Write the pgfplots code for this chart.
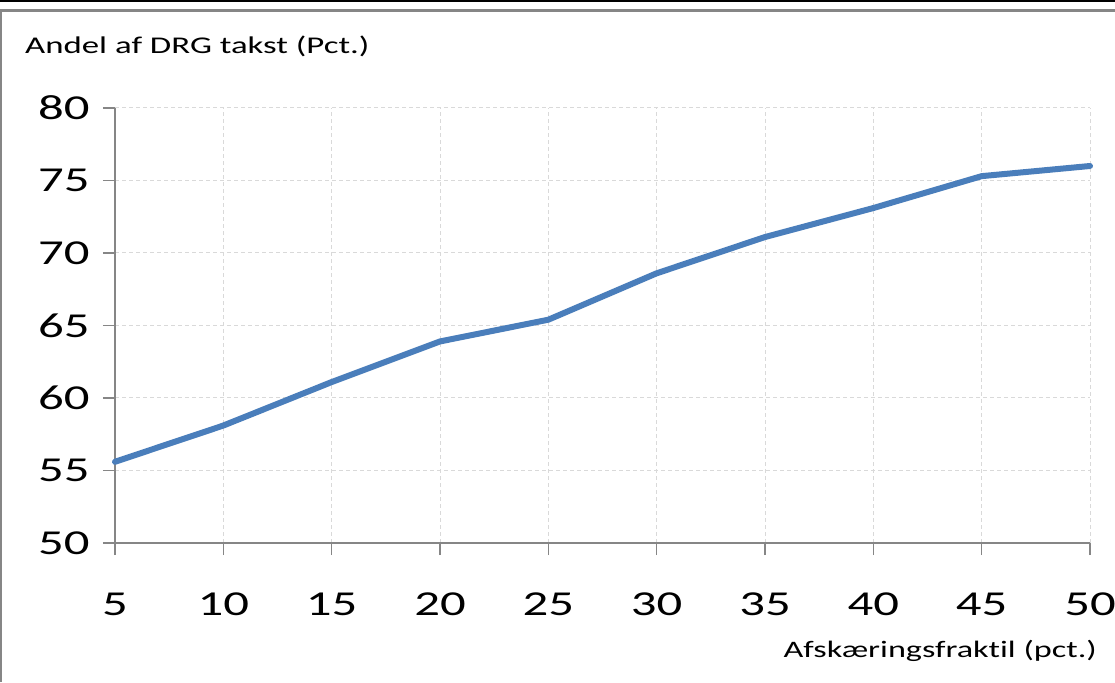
\documentclass[border=0pt]{standalone}
\usepackage{pgfplots}
\pgfplotsset{compat=1.18}
\usepackage{fontspec}
\setmainfont{Carlito}[FakeStretch=1.45, Ligatures=NoCommon]

\definecolor{lineblue}{HTML}{4A7EBB}
\definecolor{axisgray}{HTML}{868686}
\definecolor{gridgray}{HTML}{D9D9D9}

\begin{document}
\begin{tikzpicture}[x=1pt,y=1pt]
  % canvas and frame
  \useasboundingbox (0,0) rectangle (1115,682);
  \fill[white] (0,0) rectangle (1115,682);
  \draw[black, line width=2pt] (0,681) -- (1115,681);
  \draw[axisgray, line width=3pt] (0,671) -- (1115,671);
  \draw[axisgray, line width=2pt] (1,0) -- (1,671);

  \node[anchor=base west, font=\fontsize{24}{27}\selectfont, inner sep=0pt]
    at (25,628) {Andel af DRG takst (Pct.)};
  \node[anchor=base east, font=\fontsize{23.6}{27}\selectfont, inner sep=0pt]
    at (1097,25) {Afskæringsfraktil (pct.)};

  \begin{axis}[
    at={(115pt,139pt)}, anchor=south west,
    scale only axis, width=975pt, height=435pt,
    xmin=5, xmax=50, ymin=50, ymax=80,
    xtick={5,10,...,50}, ytick={50,55,...,80},
    axis x line*=bottom, axis y line*=left,
    axis line style={axisgray, line width=1.2pt},
    tick style={axisgray, line width=1.2pt},
    tick align=outside, major tick length=12pt,
    grid=major,
    major grid style={gridgray, line width=1pt, dash pattern=on 4pt off 3pt},
    ticklabel style={font=\fontsize{35}{39}\selectfont},
    /pgf/number format/assume math mode=true,
    xticklabel style={anchor=base, yshift=-60pt},
    yticklabel style={anchor=east, xshift=-10pt},
    clip=false,
  ]
    \addplot[lineblue, line width=6pt, line join=round, line cap=round] coordinates {
      (5,55.6) (10,58.1) (15,61.1) (20,63.9) (25,65.4)
      (30,68.6) (35,71.1) (40,73.1) (45,75.3) (50,76.0)
    };
  \end{axis}
\end{tikzpicture}
\end{document}
